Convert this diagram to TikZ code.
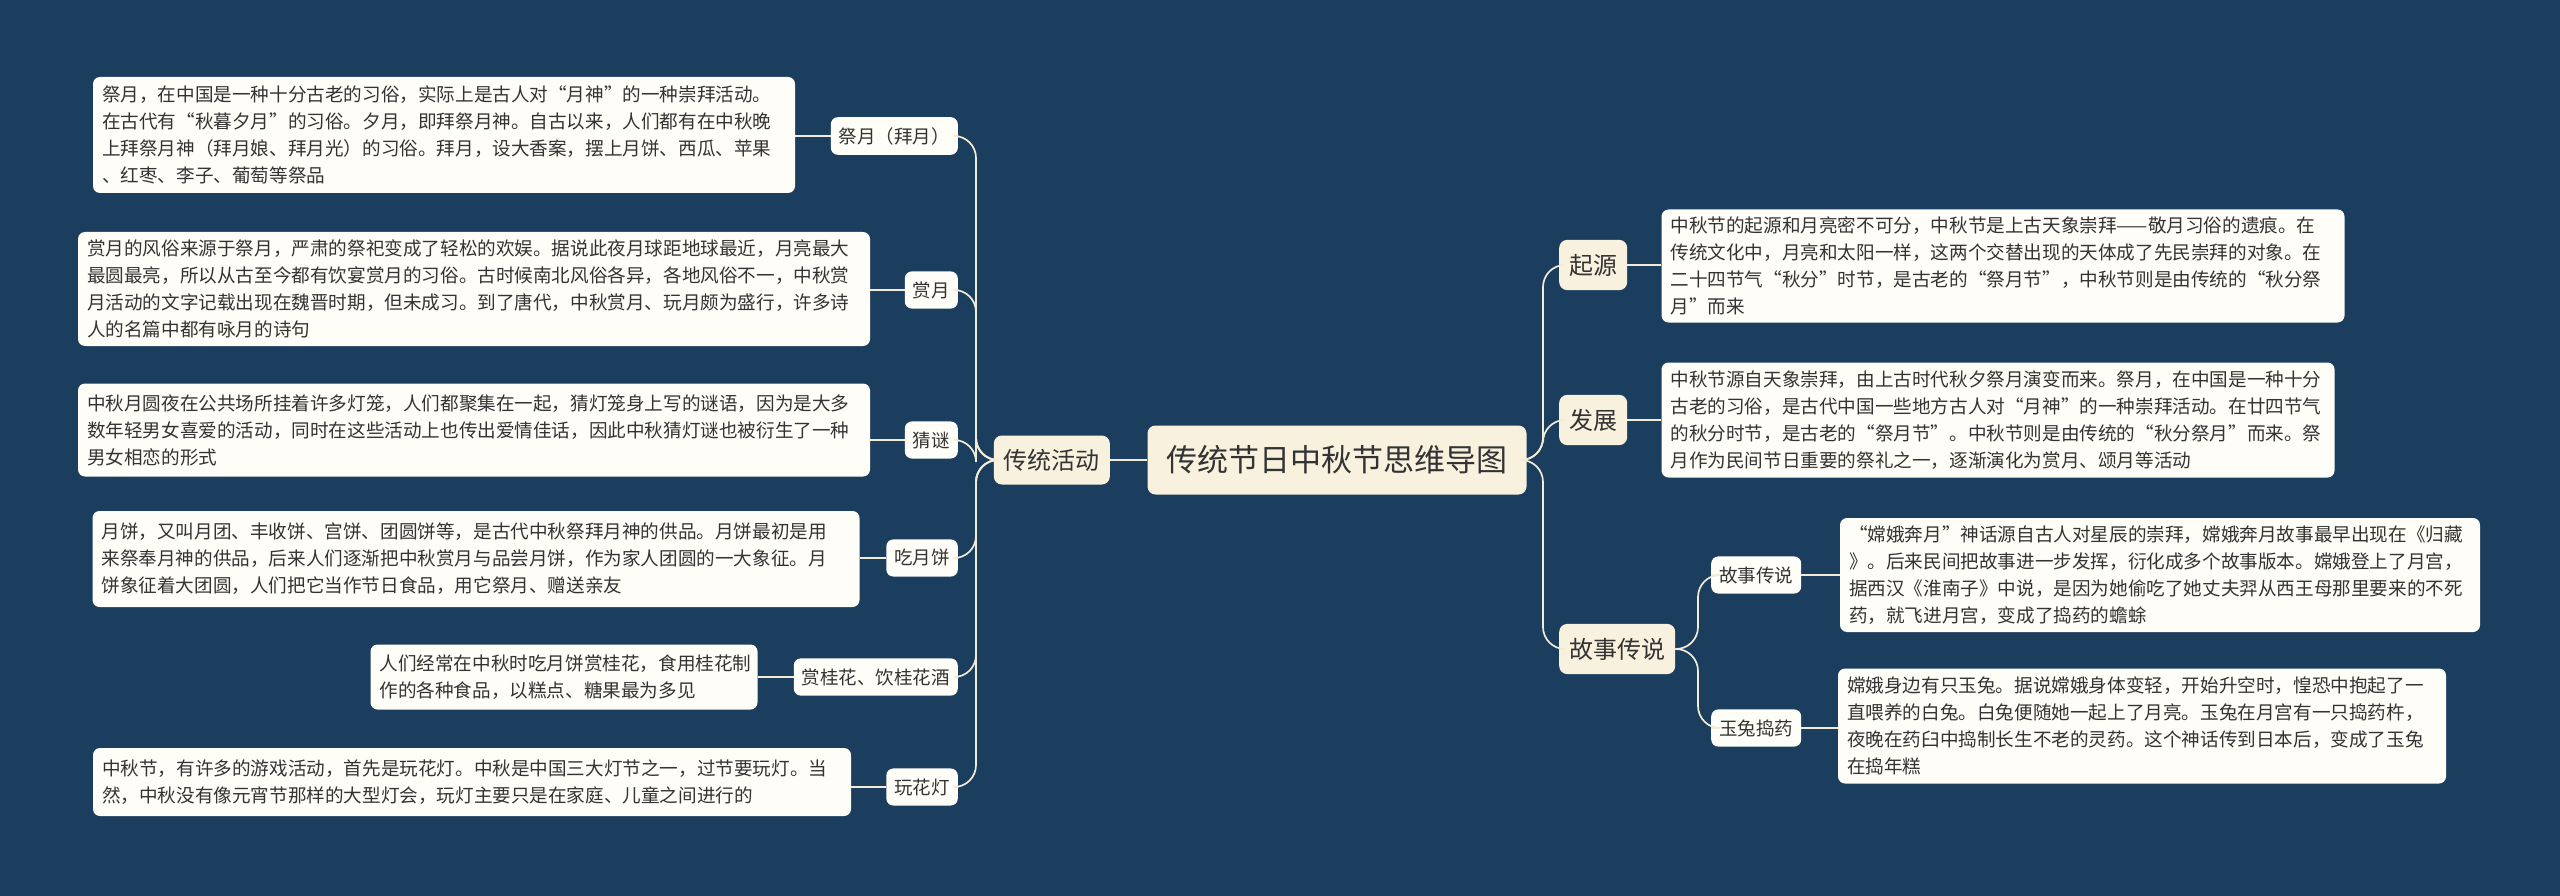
\documentclass[tikz,border=0pt]{standalone}
\usepackage{fontspec}
\newfontfamily\cjk{Noto Sans CJK SC}
\definecolor{bgc}{HTML}{1B3E5E}
\definecolor{mainc}{HTML}{F7F1DE}
\definecolor{leafc}{HTML}{FEFDF7}
\definecolor{linec}{HTML}{F1EBD8}
\definecolor{txt}{HTML}{333333}
\tikzset{
  leaf/.style={fill=leafc, rounded corners=7pt, inner xsep=9pt, inner ysep=6pt, align=left, text=txt, font=\cjk\fontsize{18.6}{27}\selectfont},
  lab/.style={fill=leafc, rounded corners=7pt, inner xsep=8pt, inner ysep=10pt, text=txt, font=\cjk\fontsize{18.5}{22}\selectfont},
  top/.style={fill=mainc, rounded corners=8pt, inner xsep=10pt, inner ysep=14pt, text=txt, font=\cjk\fontsize{24}{28}\selectfont},
  conn/.style={draw=linec, line width=1.7pt, rounded corners=22pt},
}
\begin{document}
\begin{tikzpicture}[x=1pt,y=-1pt]
\fill[bgc] (0,0) rectangle (2560,896);
\useasboundingbox (0,0) rectangle (2560,896);
% center
\node[fill=mainc, rounded corners=8pt, minimum width=379, minimum height=69, text=txt, font=\cjk\fontsize{31}{36}\selectfont] (c) at (1337,460) {传统节日中秋节思维导图};
\node[top, anchor=east, minimum height=49, inner ysep=4pt] (tr) at (1110,460) {传统活动};
% left labels
\node[lab, anchor=east] (l1) at (958,136) {祭月（拜月）};
\node[lab, anchor=east] (l2) at (958,290) {赏月};
\node[lab, anchor=east] (l3) at (958,440) {猜谜};
\node[lab, anchor=east] (l4) at (958,558) {吃月饼};
\node[lab, anchor=east] (l5) at (958,677) {赏桂花、饮桂花酒};
\node[lab, anchor=east] (l6) at (958,787) {玩花灯};
% left leaves
\node[leaf, text width=684, minimum height=116] (t1) at (444,135) {祭月，在中国是一种十分古老的习俗，实际上是古人对“月神”的一种崇拜活动。\\在古代有“秋暮夕月”的习俗。夕月，即拜祭月神。自古以来，人们都有在中秋晚\\上拜祭月神（拜月娘、拜月光）的习俗。拜月，设大香案，摆上月饼、西瓜、苹果\\、红枣、李子、葡萄等祭品};
\node[leaf, text width=774, minimum height=114] (t2) at (474,289) {赏月的风俗来源于祭月，严肃的祭祀变成了轻松的欢娱。据说此夜月球距地球最近，月亮最大\\最圆最亮，所以从古至今都有饮宴赏月的习俗。古时候南北风俗各异，各地风俗不一，中秋赏\\月活动的文字记载出现在魏晋时期，但未成习。到了唐代，中秋赏月、玩月颇为盛行，许多诗\\人的名篇中都有咏月的诗句};
\node[leaf, text width=774, minimum height=93] (t3) at (474,430) {中秋月圆夜在公共场所挂着许多灯笼，人们都聚集在一起，猜灯笼身上写的谜语，因为是大多\\数年轻男女喜爱的活动，同时在这些活动上也传出爱情佳话，因此中秋猜灯谜也被衍生了一种\\男女相恋的形式};
\node[leaf, text width=749, minimum height=96] (t4) at (476,559) {月饼，又叫月团、丰收饼、宫饼、团圆饼等，是古代中秋祭拜月神的供品。月饼最初是用\\来祭奉月神的供品，后来人们逐渐把中秋赏月与品尝月饼，作为家人团圆的一大象征。月\\饼象征着大团圆，人们把它当作节日食品，用它祭月、赠送亲友};
\node[leaf, text width=369, minimum height=65] (t5) at (564,677) {人们经常在中秋时吃月饼赏桂花，食用桂花制\\作的各种食品，以糕点、糖果最为多见};
\node[leaf, text width=740, minimum height=68] (t6) at (472,782) {中秋节，有许多的游戏活动，首先是玩花灯。中秋是中国三大灯节之一，过节要玩灯。当\\然，中秋没有像元宵节那样的大型灯会，玩灯主要只是在家庭、儿童之间进行的};
% right
\node[top, anchor=west] (r1) at (1559,265) {起源};
\node[top, anchor=west] (r2) at (1559,420) {发展};
\node[top, anchor=west] (r3) at (1559,649) {故事传说};
\node[leaf, text width=665, minimum height=113] (rt1) at (2003,266) {中秋节的起源和月亮密不可分，中秋节是上古天象崇拜——敬月习俗的遗痕。在\\传统文化中，月亮和太阳一样，这两个交替出现的天体成了先民崇拜的对象。在\\二十四节气“秋分”时节，是古老的“祭月节”，中秋节则是由传统的“秋分祭\\月”而来};
\node[leaf, text width=655, minimum height=115] (rt2) at (1998,420) {中秋节源自天象崇拜，由上古时代秋夕祭月演变而来。祭月，在中国是一种十分\\古老的习俗，是古代中国一些地方古人对“月神”的一种崇拜活动。在廿四节气\\的秋分时节，是古老的“祭月节”。中秋节则是由传统的“秋分祭月”而来。祭\\月作为民间节日重要的祭礼之一，逐渐演化为赏月、颂月等活动};
\node[lab, anchor=west] (s1) at (1711,575) {故事传说};
\node[lab, anchor=west] (s2) at (1711,728) {玉兔捣药};
\node[leaf, text width=622, minimum height=114] (st1) at (2160,575) {“嫦娥奔月”神话源自古人对星辰的崇拜，嫦娥奔月故事最早出现在《归藏\\》。后来民间把故事进一步发挥，衍化成多个故事版本。嫦娥登上了月宫，\\据西汉《淮南子》中说，是因为她偷吃了她丈夫羿从西王母那里要来的不死\\药，就飞进月宫，变成了捣药的蟾蜍};
\node[leaf, text width=590, minimum height=115] (st2) at (2142,726) {嫦娥身边有只玉兔。据说嫦娥身体变轻，开始升空时，惶恐中抱起了一\\直喂养的白兔。白兔便随她一起上了月亮。玉兔在月宫有一只捣药杵，\\夜晚在药臼中捣制长生不老的灵药。这个神话传到日本后，变成了玉兔\\在捣年糕};
% connectors
\draw[conn] (c.west) -- (tr.east);
\foreach \n/\y in {l1/136,l2/290,l3/440,l4/558,l5/677,l6/787}
  \draw[conn] (tr.west) -- (976,460) -- (976,\y) -- (\n.east);
\foreach \a/\b in {l1/t1,l2/t2,l3/t3,l4/t4,l5/t5,l6/t6}
  \draw[conn] (\a.west) -- (\b.east |- \a.west);
\foreach \n/\y in {r1/265,r2/420,r3/649}
  \draw[conn] (c.east) -- (1543,460) -- (1543,\y) -- (\n.west);
\foreach \n/\y in {s1/575,s2/728}
  \draw[conn] (r3.east) -- (1698,649) -- (1698,\y) -- (\n.west);
\draw[conn] (r1.east) -- (rt1.west |- r1.east);
\draw[conn] (r2.east) -- (rt2.west |- r2.east);
\draw[conn] (s1.east) -- (st1.west |- s1.east);
\draw[conn] (s2.east) -- (st2.west |- s2.east);
\end{tikzpicture}
\end{document}
